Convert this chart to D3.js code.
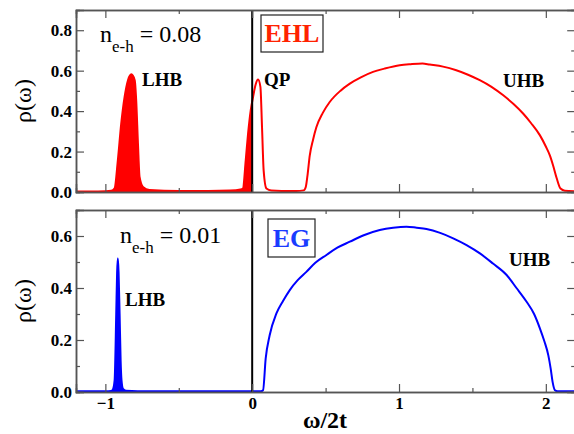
<!DOCTYPE html>
<html><head><meta charset="utf-8">
<script src="https://cdn.jsdelivr.net/npm/d3@7"></script>
<style>
body{margin:0;background:#fff;}
</style></head>
<body><svg id="c" width="574" height="434"></svg>
<script>
// ---- data ----
const xMajorTicks = [-1, 0, 1, 2];
const xMinorTicks = [-0.5, 0.5, 1.5];
const topYTicks = [0, 0.2, 0.4, 0.6, 0.8];
const botYTicks = [0, 0.2, 0.4, 0.6];

const ehlOmega = [-1.2,-1.1,-1.0,-0.96,-0.937,-0.915,-0.892,-0.869,-0.846,-0.823,-0.80,-0.79,-0.778,-0.767,-0.744,-0.70,-0.5,-0.3,-0.15,-0.08,-0.063,-0.044,-0.028,-0.010,0.006,0.024,0.040,0.056,0.067,0.078,0.097,0.13,0.2,0.3,0.35,0.365,0.378,0.392,0.415,0.437,0.48,0.528,0.6,0.665,0.74,0.823,0.9,1.005,1.08,1.16,1.21,1.3,1.39,1.47,1.55,1.63,1.71,1.78,1.845,1.9,1.96,2.0,2.028,2.05,2.074,2.10,2.13,2.2];
const ehlRho   = [0.003,0.003,0.004,0.006,0.018,0.157,0.338,0.47,0.553,0.582,0.553,0.454,0.24,0.074,0.025,0.01,0.005,0.005,0.007,0.012,0.017,0.157,0.289,0.404,0.47,0.533,0.556,0.52,0.32,0.107,0.017,0.007,0.005,0.005,0.008,0.025,0.09,0.18,0.26,0.32,0.39,0.445,0.50,0.536,0.567,0.594,0.610,0.627,0.632,0.635,0.630,0.620,0.602,0.580,0.553,0.520,0.478,0.435,0.388,0.340,0.28,0.225,0.18,0.13,0.068,0.017,0.006,0.004];

const egOmega = [-1.2,-1.0,-0.96,-0.95,-0.937,-0.926,-0.92,-0.915,-0.91,-0.903,-0.896,-0.89,-0.88,-0.86,-0.7,-0.4,-0.1,0.0,0.06,0.074,0.092,0.119,0.165,0.21,0.256,0.31,0.369,0.43,0.506,0.58,0.665,0.76,0.869,0.96,1.051,1.12,1.187,1.28,1.369,1.46,1.551,1.64,1.733,1.8,1.869,1.92,1.960,1.99,2.017,2.033,2.046,2.062,2.08,2.2];
const egRho   = [0.003,0.003,0.004,0.008,0.045,0.30,0.46,0.514,0.46,0.30,0.12,0.045,0.012,0.005,0.003,0.003,0.003,0.003,0.003,0.007,0.129,0.218,0.302,0.35,0.392,0.43,0.462,0.497,0.527,0.555,0.578,0.603,0.623,0.632,0.636,0.632,0.627,0.612,0.591,0.565,0.533,0.494,0.45,0.40,0.347,0.30,0.244,0.195,0.141,0.09,0.039,0.007,0.003,0.003];

const panels = [
  {omega: ehlOmega, rho: ehlRho, color: "#ff0000", yMax: 0.9, yTicks: topYTicks, top: 10, bottom: 192,
   nLabel: "0.08", nX: 100, nY: 42, tag: "EHL", tagColor: "#ff2200", tagBox: [261, 15, 62, 37],
   labels: [{t: "LHB", x: 142, y: 86}, {t: "QP", x: 264, y: 86}, {t: "UHB", x: 503, y: 87}], showX: false},
  {omega: egOmega, rho: egRho, color: "#0000ff", yMax: 0.7, yTicks: botYTicks, top: 210, bottom: 392,
   nLabel: "0.01", nX: 120, nY: 243, tag: "EG", tagColor: "#1a3cff", tagBox: [268, 219, 47, 38],
   labels: [{t: "LHB", x: 125, y: 306}, {t: "UHB", x: 509, y: 266}], showX: true}
];

const FONT = "Liberation Serif";
const svg = d3.select("#c");
const left = 76, right = 575.2;
const x = d3.scaleLinear().domain([-1.2, 2.2]).range([left, right]);
const frameColor = "#555";

panels.forEach((p, i) => {
  const y = d3.scaleLinear().domain([0, p.yMax]).range([p.bottom, p.top]);
  const data = p.omega.map((w, k) => ({w, r: p.rho[k]}));
  const g = svg.append("g");

  const clipId = "clip" + i;
  svg.append("clipPath").attr("id", clipId).append("rect")
    .attr("x", left).attr("y", p.top).attr("width", x(0) - left).attr("height", p.bottom - p.top);

  const area = d3.area().x(d => x(d.w)).y0(y(0)).y1(d => y(d.r)).curve(d3.curveMonotoneX);
  const line = d3.line().x(d => x(d.w)).y(d => y(d.r)).curve(d3.curveMonotoneX);

  g.append("path").datum(data).attr("d", area).attr("fill", p.color).attr("clip-path", `url(#${clipId})`);
  g.append("path").datum(data).attr("d", line).attr("fill", "none").attr("stroke", p.color).attr("stroke-width", 2);

  g.append("line").attr("x1", x(0)).attr("x2", x(0)).attr("y1", p.top).attr("y2", p.bottom)
    .attr("stroke", "#000").attr("stroke-width", 2);

  const minorY = d3.range(0.1, p.yMax, 0.2).map(v => +v.toFixed(2));
  const mk = (axis, tr) => {
    const a = g.append("g").attr("transform", tr).call(axis);
    a.attr("font-family", FONT);
    a.selectAll(".domain").attr("stroke", frameColor).attr("stroke-width", 1.5);
    a.selectAll(".tick line").attr("stroke", frameColor).attr("stroke-width", 1.2);
    a.selectAll("text").attr("font-family", FONT).attr("font-weight", "bold").attr("font-size", 17).attr("fill", "#000");
    return a;
  };
  mk(d3.axisLeft(y).tickValues(p.yTicks).tickSize(-8).tickPadding(4).tickFormat(d3.format(".1f")), `translate(${left},0)`);
  mk(d3.axisLeft(y).tickValues(minorY).tickSize(-4).tickFormat(""), `translate(${left},0)`);
  mk(d3.axisRight(y).tickValues(p.yTicks).tickSize(-8).tickFormat(""), `translate(${right},0)`);
  mk(d3.axisRight(y).tickValues(minorY).tickSize(-4).tickFormat(""), `translate(${right},0)`);
  const xb = d3.axisBottom(x).tickValues(xMajorTicks).tickSize(-8).tickPadding(5);
  if (!p.showX) xb.tickFormat(""); else xb.tickFormat(d3.format("d"));
  mk(xb, `translate(0,${p.bottom})`);
  mk(d3.axisBottom(x).tickValues(xMinorTicks).tickSize(-4).tickFormat(""), `translate(0,${p.bottom})`);
  mk(d3.axisTop(x).tickValues(xMajorTicks).tickSize(-8).tickFormat(""), `translate(0,${p.top})`);
  mk(d3.axisTop(x).tickValues(xMinorTicks).tickSize(-4).tickFormat(""), `translate(0,${p.top})`);

  g.append("text").attr("transform", `translate(31,${(p.top + p.bottom) / 2}) rotate(-90)`)
    .attr("font-family", FONT).attr("text-anchor", "middle").attr("font-size", 24).text("ρ(ω)");

  const t = g.append("text").attr("x", p.nX).attr("y", p.nY).attr("font-family", FONT).attr("font-size", 24);
  t.append("tspan").text("n");
  t.append("tspan").attr("font-size", 17).attr("dy", 10).text("e-h");
  t.append("tspan").attr("dy", -10).text(" = " + p.nLabel);

  const [bx, by, bw, bh] = p.tagBox;
  g.append("rect").attr("x", bx).attr("y", by).attr("width", bw).attr("height", bh)
    .attr("fill", "#fff").attr("stroke", "#222").attr("stroke-width", 1.2);
  g.append("text").attr("x", bx + bw / 2).attr("y", by + bh / 2 + 8.5).attr("text-anchor", "middle")
    .attr("font-family", FONT).attr("font-size", 26).attr("font-weight", "bold").attr("fill", p.tagColor).text(p.tag);

  p.labels.forEach(l => g.append("text").attr("x", l.x).attr("y", l.y).attr("font-family", FONT)
    .attr("font-size", 19).attr("font-weight", "bold").text(l.t));
});

svg.append("text").attr("x", 325).attr("y", 428).attr("text-anchor", "middle").attr("font-family", FONT)
  .attr("font-size", 24).attr("font-weight", "bold").text("ω/2t");
</script></body></html>
